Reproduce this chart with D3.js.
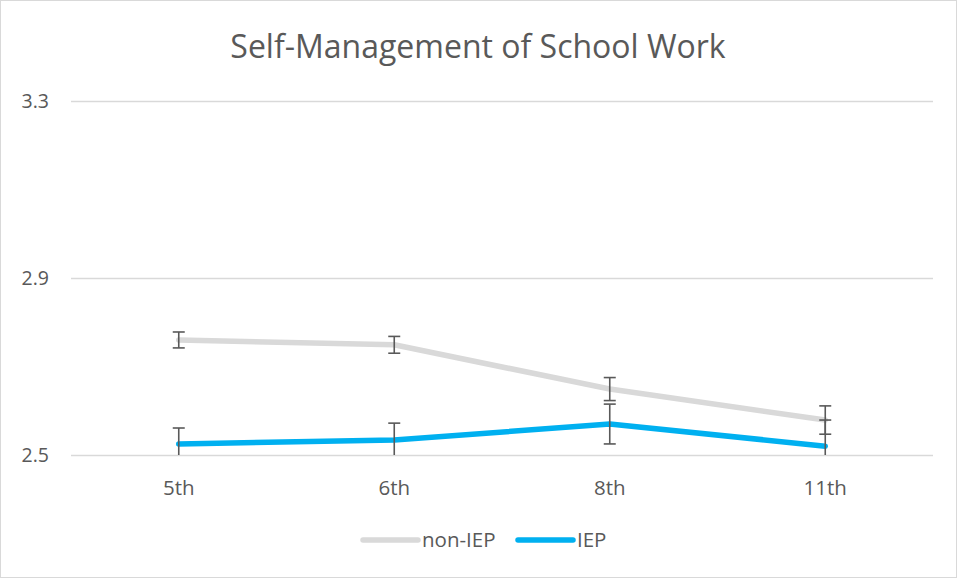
<!DOCTYPE html>
<html><head><meta charset="utf-8">
<script src="https://cdn.jsdelivr.net/npm/d3@7"></script>
<style>body{margin:0;background:#fff;}svg{display:block;font-family:"Open Sans",sans-serif;}</style>
</head><body>
<svg id="c" width="957" height="578"></svg>
<script>
const categories = ["5th","6th","8th","11th"];
const nonIEP = [2.760, 2.749, 2.649, 2.579];
const nonIEPErr = [0.018, 0.019, 0.026, 0.032];
const IEP = [2.525, 2.534, 2.570, 2.520];
const IEPErr = [0.036, 0.038, 0.045, 0.059];
const yTicks = [2.5, 2.9, 3.3];
const seriesNames = ["non-IEP","IEP"];
const colors = ["#d9d9d9","#00b0f0"];

const svg = d3.select("#c");
svg.append("rect").attr("x",0.5).attr("y",0.5).attr("width",956).attr("height",577)
  .attr("fill","#fff").attr("stroke","#d9d9d9");

const x = d3.scaleBand().domain(categories).range([71,933]);
const y = d3.scaleLinear().domain([2.5,3.3]).range([455,101]);

svg.append("text").attr("x",478).attr("y",58).attr("text-anchor","middle")
  .attr("font-size",32).attr("fill","#595959").text("Self-Management of School Work");

const yAxis = d3.axisLeft(y).tickValues(yTicks).tickFormat(d3.format(".1f")).tickSize(-(933-71)).tickPadding(22);
const gy = svg.append("g").attr("transform","translate(71,0)").call(yAxis);
gy.select(".domain").remove();
gy.selectAll(".tick line").attr("stroke","#d9d9d9").attr("stroke-width",1.3);
gy.selectAll(".tick text").attr("fill","#595959").attr("font-size",19.5).attr("font-family","Open Sans");

const xAxis = d3.axisBottom(x).tickSize(0).tickPadding(25);
const gx = svg.append("g").attr("transform","translate(0,455)").call(xAxis);
gx.select(".domain").remove();
gx.selectAll(".tick text").attr("fill","#595959").attr("font-size",20.5).attr("font-family","Open Sans");

svg.append("clipPath").attr("id","pc").append("rect")
  .attr("x",71).attr("y",101).attr("width",862).attr("height",354);

const data = [
  {name:seriesNames[0], vals:nonIEP, err:nonIEPErr, color:colors[0]},
  {name:seriesNames[1], vals:IEP, err:IEPErr, color:colors[1]}
];
const cx = d => x(d) + x.bandwidth()/2;
const line = d3.line().x((d,i)=>cx(categories[i])).y(d=>y(d)).curve(d3.curveLinear);

const plot = svg.append("g").attr("clip-path","url(#pc)");
data.forEach(s=>{
  plot.append("path").datum(s.vals).attr("d",line).attr("fill","none")
    .attr("stroke",s.color).attr("stroke-width",5.5).attr("stroke-linecap","round").attr("stroke-linejoin","round");
  const g = plot.append("g");
  s.vals.forEach((v,i)=>{
    const xx = cx(categories[i]);
    const y1 = y(v + s.err[i]), y2 = y(v - s.err[i]);
    g.append("line").attr("x1",xx).attr("x2",xx).attr("y1",y1).attr("y2",y2).attr("stroke","#595959").attr("stroke-width",1.6);
    [y1,y2].forEach(yy=>g.append("line").attr("x1",xx-6).attr("x2",xx+6).attr("y1",yy).attr("y2",yy).attr("stroke","#595959").attr("stroke-width",1.6));
  });
});

const legend = svg.append("g");
const lx = [363, 518];
data.forEach((s,i)=>{
  legend.append("line").attr("x1",lx[i]).attr("x2",lx[i]+55).attr("y1",540).attr("y2",540)
    .attr("stroke",s.color).attr("stroke-width",5.5).attr("stroke-linecap","round");
  legend.append("text").attr("x",lx[i]+59).attr("y",547).attr("font-size",20.5).attr("fill","#595959").text(s.name);
});
</script>
</body></html>
